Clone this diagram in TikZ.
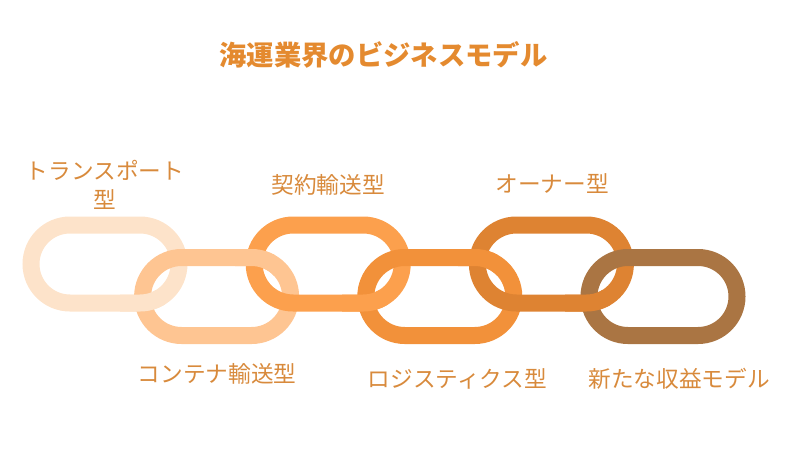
\documentclass[tikz,border=0pt]{standalone}
\usepackage{fontspec}
\newfontfamily\jpfont{Noto Sans CJK JP}
\usetikzlibrary{positioning}
\definecolor{linkone}{HTML}{FDE3CA}
\definecolor{linktwo}{HTML}{FEC592}
\definecolor{linkthree}{HTML}{FCA04D}
\definecolor{linkfour}{HTML}{F2913A}
\definecolor{linkfive}{HTML}{DE8332}
\definecolor{linksix}{HTML}{AA7543}
\definecolor{labelorange}{HTML}{D88A3C}
\definecolor{titleorange}{HTML}{E48A2F}
\tikzset{
  link/.style={draw=#1, line width=12.75pt, rounded corners=29.25pt,
    minimum width=111pt, minimum height=58.5pt, inner sep=0pt},
  lbl/.style={text=labelorange, font=\jpfont\fontsize{17}{21.75}\selectfont,
    align=center, inner sep=0pt},
}

\begin{document}
\begin{tikzpicture}[x=0.75pt, y=-0.75pt]
    \useasboundingbox (0,0) rectangle (800,450);

    \node[text=titleorange, font=\jpfont\bfseries\fontsize{20.5}{24}\selectfont] (head) at (383.5,55) {海運業界のビジネスモデル};

    % links of the chain
    \foreach \i/\y/\c in {1/264/linkone, 2/296.5/linktwo, 3/264/linkthree,
                          4/296.5/linkfour, 5/264/linkfive, 6/296.5/linksix}
        \node[link=\c] (L\i) at ({105+111.6*(\i-1)},\y) {};

    % put the earlier link back on top where it passes over
    \foreach \a/\c/\xa/\ya/\xb/\yb in {1/linkone/120/290/165/320,
                                       2/linktwo/235/240/275/275,
                                       3/linkthree/342/290/388/320,
                                       4/linkfour/458/240/498/275,
                                       5/linkfive/565/290/611/320}{
        \begin{scope}
            \clip (\xa,\ya) rectangle (\xb,\yb);
            \node[link=\c] at (L\a) {};
        \end{scope}
    }

    \node[lbl] (t1) at (105,184.5) {トランスポート\\型};
    \node[lbl] (t2) at (217,374) {コンテナ輸送型};
    \node[lbl] (t3) at (328,185) {契約輸送型};
    \node[lbl] (t4) at (457.5,379) {ロジスティクス型};
    \node[lbl] (t5) at (552,184) {オーナー型};
    \node[lbl] (t6) at (679,379) {新たな収益モデル};

\end{tikzpicture}
\end{document}
